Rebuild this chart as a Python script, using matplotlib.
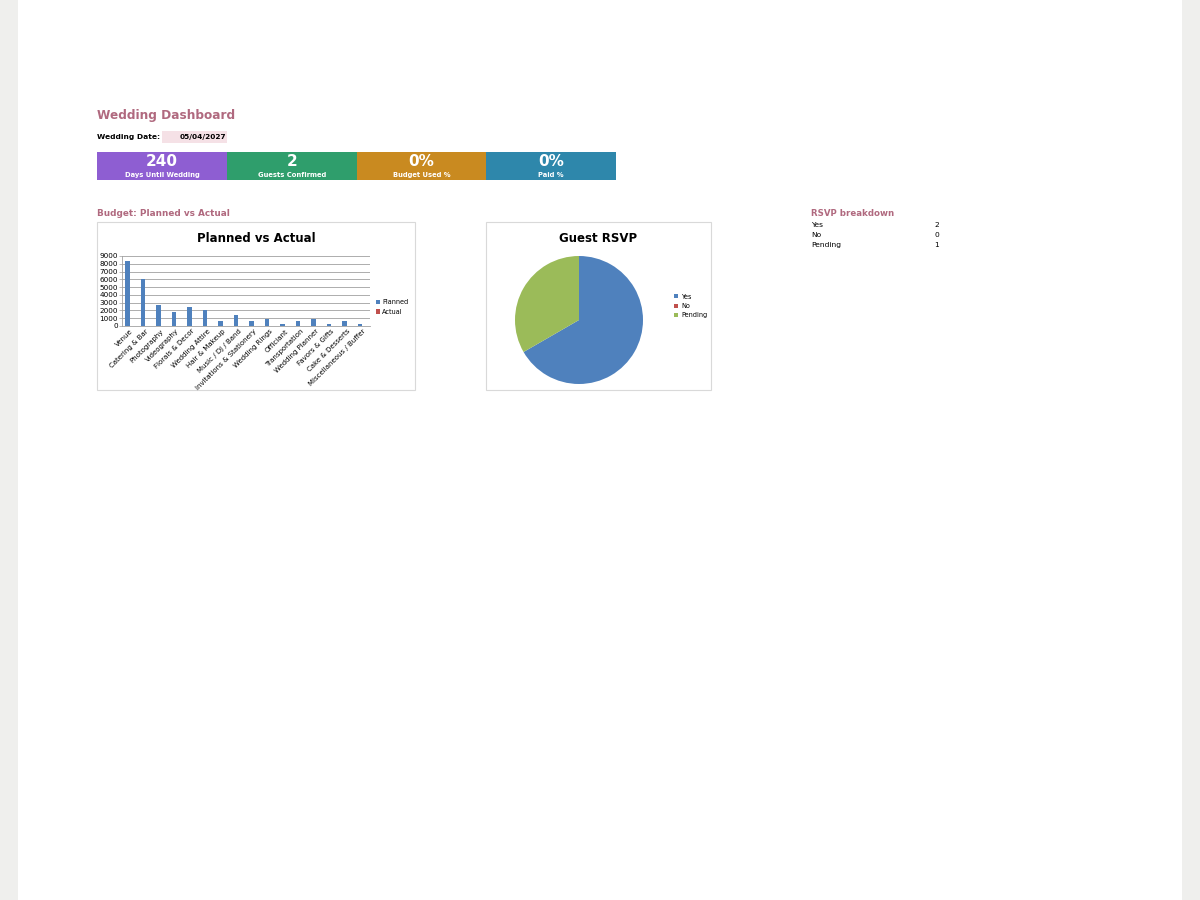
import matplotlib.pyplot as plt
import numpy as np
from matplotlib.patches import Rectangle

# budget categories, planned vs actual spend
categories = ['Venue', 'Catering & Bar', 'Photography', 'Videography', 'Florals & Decor',
              'Wedding Attire', 'Hair & Makeup', 'Music / DJ / Band', 'Invitations & Stationery',
              'Wedding Rings', 'Officiant', 'Transportation', 'Wedding Planner',
              'Favors & Gifts', 'Cake & Desserts', 'Miscellaneous / Buffer']
planned = [8350, 6000, 2700, 1800, 2400, 2050, 600, 1450, 600, 950, 300, 600, 950, 300, 600, 300]
actual = [0] * len(categories)

rsvp_labels = ['Yes', 'No', 'Pending']
rsvp_counts = [2, 0, 1]

kpi_values = ['240', '2', '0%', '0%']
kpi_labels = ['Days Until Wedding', 'Guests Confirmed', 'Budget Used %', 'Paid %']
kpi_colors = ['#8e5ed2', '#2f9e6c', '#c98a20', '#2e87ab']

W, H = 1200, 900
fig = plt.figure(figsize=(12, 9), dpi=100)
fig.patch.set_facecolor('#efefed')

def box(x, y, w, h):
    # pixel box (top-left origin) -> figure fraction rect
    return [x / W, 1 - (y + h) / H, w / W, h / H]

def frect(x, y, w, h, **kw):
    r = box(x, y, w, h)
    fig.add_artist(Rectangle((r[0], r[1]), r[2], r[3], transform=fig.transFigure, zorder=-5, **kw))

def ftext(x, y, s, **kw):
    fig.text(x / W, 1 - y / H, s, **kw)

# white page
frect(18, 0, 1164, 900, facecolor='white', edgecolor='none')

mauve = '#b0697f'
ftext(97, 115, 'Wedding Dashboard', fontsize=8.7, fontweight='bold', color=mauve, va='center')
ftext(97, 137, 'Wedding Date:', fontsize=5.4, fontweight='bold', va='center')
frect(162, 131, 65, 12, facecolor='#f5e1e6', edgecolor='none')
ftext(226, 137, '05/04/2027', fontsize=5.3, fontweight='bold', va='center', ha='right')

# KPI tiles
tile_x = [97, 227, 357, 486]
tile_w = [130, 130, 129, 130]
for x, w, v, lab, c in zip(tile_x, tile_w, kpi_values, kpi_labels, kpi_colors):
    frect(x, 152, w, 28, facecolor=c, edgecolor='none')
    ftext(x + w / 2, 161, v, fontsize=11, fontweight='bold', color='white', ha='center', va='center')
    ftext(x + w / 2, 175, lab, fontsize=4.9, fontweight='bold', color='white', ha='center', va='center')

ftext(97, 214, 'Budget: Planned vs Actual', fontsize=6.4, fontweight='bold', color=mauve, va='center')

# chart frames
frect(97, 222, 318, 168, facecolor='white', edgecolor='#d9d9d9', linewidth=0.8)
frect(486, 222, 225, 168, facecolor='white', edgecolor='#d9d9d9', linewidth=0.8)

# bar chart
ax = fig.add_axes(box(122, 256, 248, 70))
ax.patch.set_alpha(0)
xs = np.arange(len(categories))
bw = 0.29
ax.bar(xs - bw / 2, planned, bw, color='#4f81bd', label='Planned')
ax.bar(xs + bw / 2, actual, bw, color='#c0504d', label='Actual')
ax.set_xlim(-0.5, len(categories) - 0.5)
ax.set_ylim(0, 9000)
ax.set_yticks(np.arange(0, 9001, 1000))
ax.yaxis.grid(True, color='#a0a0a0', linewidth=0.6)
ax.set_axisbelow(True)
ax.set_xticks(xs)
ax.set_xticklabels(categories, rotation=45, ha='right', rotation_mode='anchor', fontsize=5.0)
ax.tick_params(axis='y', labelsize=5.2, length=2, width=0.5, color='#a0a0a0', pad=1)
ax.tick_params(axis='x', length=0, pad=1.5)
for s in ['top', 'right']:
    ax.spines[s].set_visible(False)
for s in ['bottom', 'left']:
    ax.spines[s].set_color('#a0a0a0')
    ax.spines[s].set_linewidth(0.6)
ax.legend(loc='center left', bbox_to_anchor=(1.0, 0.27), frameon=False, fontsize=4.7,
          handlelength=0.6, handleheight=0.6, handletextpad=0.4, labelspacing=0.5)
ftext(256, 238, 'Planned vs Actual', fontsize=8.5, fontweight='bold', ha='center', va='center')

# pie chart
pax = fig.add_axes(box(515, 256, 128, 128))
wedges, _ = pax.pie(rsvp_counts, colors=['#4f81bd', '#c0504d', '#9bbb59'], startangle=90,
                    counterclock=False, wedgeprops=dict(edgecolor='none'))
pax.set_xlim(-1, 1)
pax.set_ylim(-1, 1)
pax.set_aspect('equal')
pax.legend(wedges, rsvp_labels, loc='center left', bbox_to_anchor=(1.2, 0.61), frameon=False,
           fontsize=4.7, handlelength=0.6, handleheight=0.6, handletextpad=0.4, labelspacing=0.5)
ftext(598, 238, 'Guest RSVP', fontsize=8.5, fontweight='bold', ha='center', va='center')

# RSVP breakdown table
ftext(811, 214, 'RSVP breakdown', fontsize=6.2, fontweight='bold', color=mauve, va='center')
for i, (lab, n) in enumerate(zip(rsvp_labels, rsvp_counts)):
    ftext(811, 225 + i * 10, lab, fontsize=5.4, va='center')
    ftext(939, 225 + i * 10, str(n), fontsize=5.4, va='center', ha='right')

fig.savefig('out.png', dpi=100, facecolor=fig.get_facecolor())
